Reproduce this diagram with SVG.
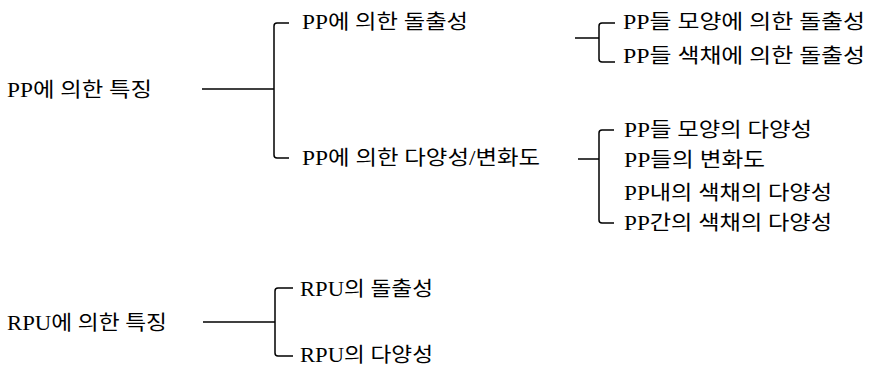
<svg xmlns="http://www.w3.org/2000/svg" width="869" height="370" viewBox="0 0 869 370">
<style>
text{font-family:"Liberation Serif","Noto Sans CJK KR",serif;font-size:20px;fill:#000;dominant-baseline:central}
.c{fill:none;stroke:#000;stroke-width:1.5;stroke-linecap:butt}
</style>
<rect width="869" height="370" fill="#fff"/>
<g id="connectors">
<path class="c" d="M202 89H274"/>
<path class="c" d="M289 23H277Q274 23 274 26V155Q274 158 277 158H289"/>
<path class="c" d="M575 38H599"/>
<path class="c" d="M615 23H602Q599 23 599 26V59Q599 62 602 62H615"/>
<path class="c" d="M578 159H599"/>
<path class="c" d="M614 130H602Q599 130 599 133V220Q599 223 602 223H614"/>
<path class="c" d="M203 322H275"/>
<path class="c" d="M293 288H278Q275 288 275 291V353Q275 356 278 356H293"/>
</g>
<g id="n-pp"><text x="7" y="90" textLength="145" lengthAdjust="spacingAndGlyphs">PP에 의한 특징</text></g>
<g id="n-pp-prom"><text x="302" y="22" textLength="166" lengthAdjust="spacingAndGlyphs">PP에 의한 돌출성</text></g>
<g id="n-pp-div"><text x="302" y="158" textLength="238" lengthAdjust="spacingAndGlyphs">PP에 의한 다양성/변화도</text></g>
<g id="n-pp-shape-prom"><text x="623" y="22" textLength="242" lengthAdjust="spacingAndGlyphs">PP들 모양에 의한 돌출성</text></g>
<g id="n-pp-color-prom"><text x="623" y="56" textLength="242" lengthAdjust="spacingAndGlyphs">PP들 색채에 의한 돌출성</text></g>
<g id="n-pp-shape-div"><text x="624" y="130" textLength="188" lengthAdjust="spacingAndGlyphs">PP들 모양의 다양성</text></g>
<g id="n-pp-var"><text x="624" y="160" textLength="141" lengthAdjust="spacingAndGlyphs">PP들의 변화도</text></g>
<g id="n-pp-in-color"><text x="624" y="193" textLength="208" lengthAdjust="spacingAndGlyphs">PP내의 색채의 다양성</text></g>
<g id="n-pp-bt-color"><text x="624" y="223" textLength="208" lengthAdjust="spacingAndGlyphs">PP간의 색채의 다양성</text></g>
<g id="n-rpu"><text x="7" y="323" textLength="160" lengthAdjust="spacingAndGlyphs">RPU에 의한 특징</text></g>
<g id="n-rpu-prom"><text x="300" y="289" textLength="133" lengthAdjust="spacingAndGlyphs">RPU의 돌출성</text></g>
<g id="n-rpu-div"><text x="300" y="355" textLength="133" lengthAdjust="spacingAndGlyphs">RPU의 다양성</text></g>
</svg>
